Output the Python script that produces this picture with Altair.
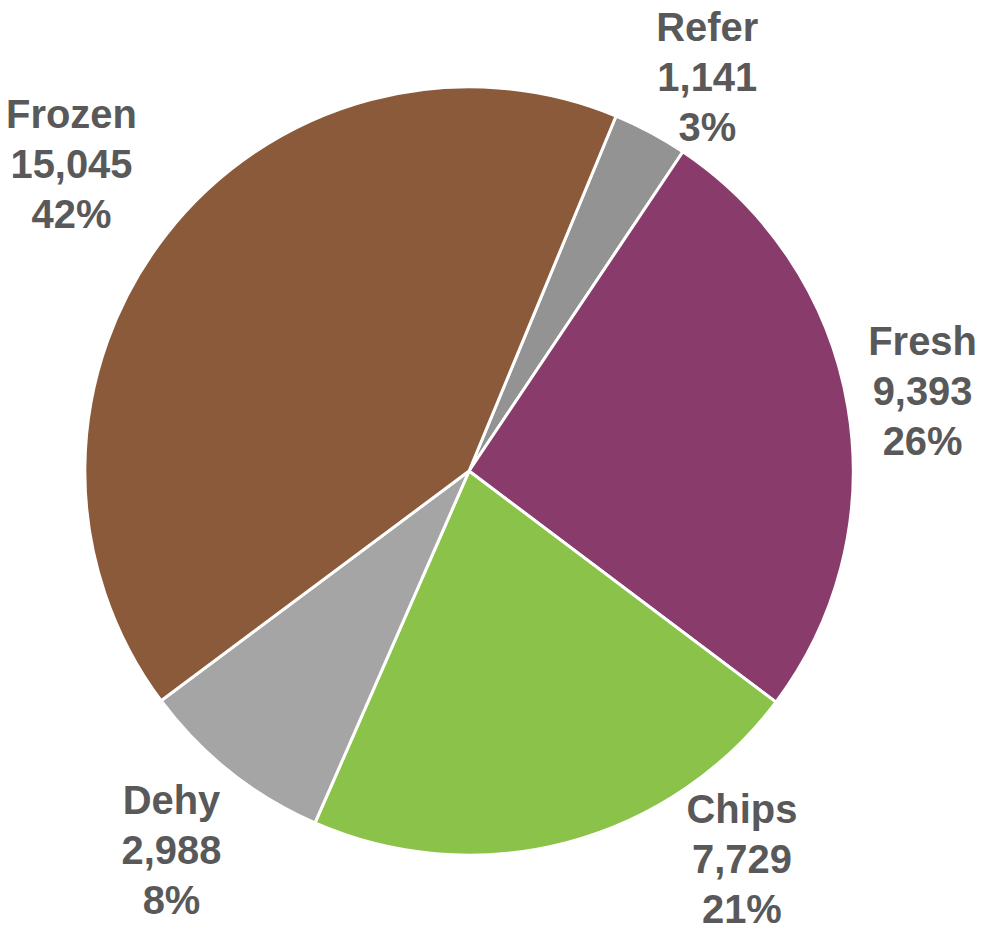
import math
import altair as alt
import pandas as pd

categories = ["Refer", "Fresh", "Chips", "Dehy", "Frozen"]
values = [1141, 9393, 7729, 2988, 15045]
pct_labels = ["3%", "26%", "21%", "8%", "42%"]
colors = ["#939393", "#893C6C", "#8BC34A", "#A5A5A5", "#8B5A3A"]

df = pd.DataFrame({"cat": categories, "value": values, "pct": pct_labels,
                   "order": list(range(len(categories)))})
total = sum(values)
start = math.pi / 8
theta_scale = alt.Scale(domain=[0, total], range=[start, start + 2 * math.pi])

CX, CY = 462, 463

base = (
    alt.Chart(df)
    .transform_window(cum="sum(value)", sort=[alt.SortField("order")])
    .transform_calculate(
        cum0="datum.cum - datum.value",
        mid="datum.cum - datum.value / 2",
        label="[datum.cat, format(datum.value, ','), datum.pct]",
    )
)

arcs = base.mark_arc(outerRadius=385, stroke="white", strokeWidth=3).encode(
    theta=alt.Theta("cum0:Q", scale=theta_scale),
    theta2="cum:Q",
    color=alt.Color("cat:N", scale=alt.Scale(domain=categories, range=colors), legend=None),
    x=alt.value(CX),
    y=alt.value(CY),
)

label_style = {
    "Refer": (455, 24, -42),
    "Fresh": (468, -7, -50),
    "Chips": (400, 172, -46),
    "Dehy": (481, 1, -45),
    "Frozen": (501, -3, -48),
}

layers = [arcs]
for c in categories:
    r, dx, dy = label_style[c]
    layers.append(
        base.transform_filter(alt.datum.cat == c)
        .mark_text(radius=r, dx=dx, dy=dy, font="Liberation Sans", fontSize=40,
                   fontWeight="bold", color="#595959", align="center",
                   baseline="middle", lineHeight=50)
        .encode(
            theta=alt.Theta("mid:Q", scale=theta_scale),
            text=alt.Text("label:N"),
            x=alt.value(CX),
            y=alt.value(CY),
        )
    )

chart = (
    alt.layer(*layers)
    .properties(width=975, height=921, padding=0,
                autosize=alt.AutoSizeParams(type="none"))
    .configure_view(stroke=None)
)

chart.save("out.html", embed_options={"renderer": "svg", "actions": False})
